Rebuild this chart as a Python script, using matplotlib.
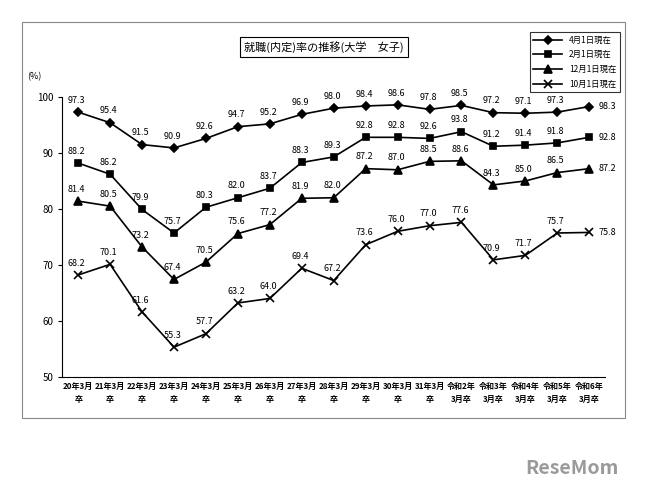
import matplotlib
matplotlib.use("Agg")
import matplotlib.pyplot as plt
from matplotlib.patches import Rectangle

plt.rcParams['font.family'] = ['Noto Sans CJK JP', 'DejaVu Sans']

cats = ["20年3月\n卒","21年3月\n卒","22年3月\n卒","23年3月\n卒","24年3月\n卒","25年3月\n卒",
        "26年3月\n卒","27年3月\n卒","28年3月\n卒","29年3月\n卒","30年3月\n卒","31年3月\n卒",
        "令和2年\n3月卒","令和3年\n3月卒","令和4年\n3月卒","令和5年\n3月卒","令和6年\n3月卒"]
apr = [97.3,95.4,91.5,90.9,92.6,94.7,95.2,96.9,98.0,98.4,98.6,97.8,98.5,97.2,97.1,97.3,98.3]
feb = [88.2,86.2,79.9,75.7,80.3,82.0,83.7,88.3,89.3,92.8,92.8,92.6,93.8,91.2,91.4,91.8,92.8]
dec = [81.4,80.5,73.2,67.4,70.5,75.6,77.2,81.9,82.0,87.2,87.0,88.5,88.6,84.3,85.0,86.5,87.2]
octo = [68.2,70.1,61.6,55.3,57.7,63.2,64.0,69.4,67.2,73.6,76.0,77.0,77.6,70.9,71.7,75.7,75.8]
names = ["4月1日現在","2月1日現在","12月1日現在","10月1日現在"]

fig = plt.figure(figsize=(6.48,4.90), dpi=100)
fig.patches.append(Rectangle((22/648, 1-418/490), 603/648, 396/490, transform=fig.transFigure,
                             fill=False, ec='#888888', lw=0.8))
ax = fig.add_axes([0.096, 0.231, 0.838, 0.571])
x = list(range(len(cats)))
series = [(apr,'D',4.5),(feb,'s',4.5),(dec,'^',5.5),(octo,'x',5.5)]
hs = []
for (vals,m,ms),n in zip(series,names):
    h, = ax.plot(x, vals, color='black', lw=1.2, marker=m, ms=ms, mew=1.2, label=n)
    hs.append(h)
    for xi,v in zip(x,vals):
        last = xi == len(x)-1
        ax.text(xi+0.3 if last else xi-0.05, v if last else v+1.3, f"{v:.1f}",
                ha='left' if last else 'center', va='center' if last else 'bottom', fontsize=6.5)
ax.set_ylim(50,100)
ax.set_xlim(-0.5,len(x)-0.5)
ax.set_yticks(range(50,101,10))
ax.tick_params(axis='y', labelsize=7, length=3)
ax.set_xticks(x)
ax.set_xticklabels(cats, fontsize=5.8, fontweight='bold', linespacing=1.6)
ax.tick_params(axis='x', length=0)
ax.grid(False)
for s in ['top','right']:
    ax.spines[s].set_visible(False)
ax.text(-0.065, 1.065, "(%)", transform=ax.transAxes, fontsize=6.5)
fig.text(0.5, 1-47/490, "就職(内定)率の推移(大学　女子)", ha='center', va='center', fontsize=8,
         bbox=dict(boxstyle='square,pad=0.4', fc='white', ec='black', lw=0.8))
leg = fig.legend(handles=hs, loc='upper right', bbox_to_anchor=(624/648, 1-28/490), fontsize=6,
                 frameon=True, fancybox=False, edgecolor='black', handlelength=3.5, labelspacing=0.7)
leg.get_frame().set_linewidth(0.8)
fig.text(0.955, 1-468/490, "ReseMom", ha='right', va='center', fontsize=14, color='#9a9a9a', fontweight='bold')
fig.savefig("out.png", dpi=100)
